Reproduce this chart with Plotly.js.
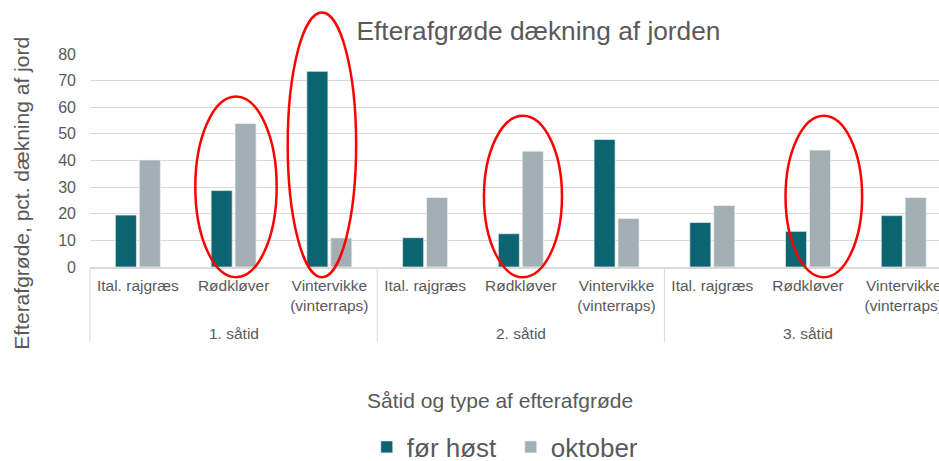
<!DOCTYPE html>
<html>
<head>
<meta charset="utf-8">
<script src="https://cdn.plot.ly/plotly-3.0.1.min.js"></script>
<style>html,body{margin:0;padding:0;background:#fff;}#chart{width:939px;height:461px;}</style>
</head>
<body>
<div id="chart"></div>
<script>
var groups = ["1. såtid", "2. såtid", "3. såtid"];
var crops = ["Ital. rajgræs", "Rødkløver", "Vintervikke<br>(vinterraps)"];
var forHost = [19.5, 28.7, 73.5, 11.0, 12.5, 47.9, 16.7, 13.4, 19.3];
var oktober = [40.2, 53.9, 10.9, 26.1, 43.5, 18.2, 23.1, 43.9, 26.1];
var seriesNames = ["før høst", "oktober"];
var yTicks = [0, 10, 20, 30, 40, 50, 60, 70, 80];

var categoryLabels = [];
groups.forEach(function () { crops.forEach(function (c) { categoryLabels.push(c); }); });
var xIdx = categoryLabels.map(function (_, i) { return i; });

var xr = [-0.5, 8.368];
var yr = [0, 80];
function px(v) { return (v - xr[0]) / (xr[1] - xr[0]); }

var textColor = "#595959";
var font = "Liberation Sans, Arial, sans-serif";

var traces = [
  { type: "bar", name: seriesNames[0], x: xIdx, y: forHost,
    marker: { color: "#0a6570", line: { color: "#e8f0f0", width: 0.7 } }, hoverinfo: "y" },
  { type: "bar", name: seriesNames[1], x: xIdx, y: oktober,
    marker: { color: "#a2afb5", line: { color: "#f0f3f4", width: 0.7 } }, hoverinfo: "y" }
];

var shapes = [];
for (var g = 0; g <= groups.length - 1; g++) {
  var xv = g * crops.length - 0.5;
  shapes.push({ type: "line", xref: "paper", yref: "paper", x0: px(xv), x1: px(xv), y0: 0, y1: -0.354,
    line: { color: "#d9d9d9", width: 1 } });
}
var highlights = [
  { i: 1, l: -0.40, r: 0.45, top: 0.80 },
  { i: 2, l: -0.435, r: 0.28, top: 1.195 },
  { i: 4, l: -0.385, r: 0.43, top: 0.71 },
  { i: 7, l: -0.235, r: 0.565, top: 0.71 }
];
highlights.forEach(function (h) {
  shapes.push({ type: "circle", xref: "paper", yref: "paper",
    x0: px(h.i + h.l), x1: px(h.i + h.r), y0: -0.048, y1: h.top,
    line: { color: "#ff0000", width: 2.5 } });
});

var annotations = [];
groups.forEach(function (gname, g) {
  annotations.push({ text: gname, xref: "paper", yref: "paper", x: px(g * crops.length + 1), y: -0.310,
    xanchor: "center", yanchor: "middle", showarrow: false, font: { size: 15.5, color: textColor, family: font } });
});
annotations.push({ text: "Såtid og type af efterafgrøde", xref: "paper", yref: "paper",
  x: (500 - 90) / 849, y: -0.627, xanchor: "center", yanchor: "middle", showarrow: false,
  font: { size: 21, color: textColor, family: font } });
annotations.push({ text: "Efterafgrøde, pct. dækning af jord", xref: "paper", yref: "paper",
  x: (22 - 90) / 849, y: 0.344, xanchor: "center", yanchor: "middle", textangle: -90, showarrow: false,
  font: { size: 21, color: textColor, family: font } });

var layout = {
  width: 939, height: 461,
  margin: { l: 90, r: 0, t: 54, b: 194.3, pad: 0, autoexpand: false },
  paper_bgcolor: "#fff", plot_bgcolor: "#fff",
  font: { family: font, color: textColor },
  title: { text: "Efterafgrøde dækning af jorden", font: { size: 26.3, color: textColor, family: font },
    xref: "paper", x: (538.5 - 90) / 849, xanchor: "center", yref: "container", y: 1 - 31 / 461, yanchor: "middle" },
  barmode: "group", bargap: 0.5, bargroupgap: 0.12,
  showlegend: true,
  legend: { orientation: "h", xref: "paper", yref: "paper", x: 0.326, xanchor: "left", y: -0.845, yanchor: "middle",
    entrywidth: 99, entrywidthmode: "pixels",
    font: { size: 26, color: textColor, family: font }, bgcolor: "rgba(0,0,0,0)" },
  xaxis: { range: xr, tickmode: "array", tickvals: xIdx, ticktext: categoryLabels, showgrid: false, zeroline: false,
    showline: true, linecolor: "#d9d9d9", linewidth: 1.5, ticks: "", ticklabelstandoff: 4, ticklabeloverflow: "allow",
    tickfont: { size: 15.5, color: textColor, family: font }, fixedrange: true },
  yaxis: { range: yr, tickmode: "array", tickvals: yTicks, showgrid: true, gridcolor: "#d9d9d9", gridwidth: 1,
    zeroline: false, showline: false, ticks: "", ticklabelstandoff: 13,
    tickfont: { size: 16, color: textColor, family: font }, fixedrange: true },
  shapes: shapes,
  annotations: annotations
};

Plotly.newPlot("chart", traces, layout, { displayModeBar: false, staticPlot: true });
</script>
</body>
</html>
